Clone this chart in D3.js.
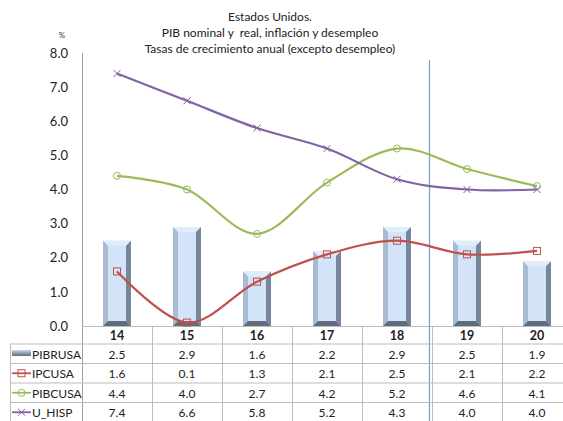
<!DOCTYPE html>
<html><head><meta charset="utf-8">
<script src="https://cdn.jsdelivr.net/npm/d3@7"></script>
<style>html,body{margin:0;padding:0;background:#fff;overflow:hidden}svg{display:block;font-family:Lato,"Open Sans",sans-serif}</style>
</head><body><svg id="c" width="563" height="421"></svg>
<script>
const categories = ["14","15","16","17","18","19","20"];
const PIBRUSA = [2.5,2.9,1.6,2.2,2.9,2.5,1.9];
const IPCUSA  = [1.6,0.1,1.3,2.1,2.5,2.1,2.2];
const PIBCUSA = [4.4,4.0,2.7,4.2,5.2,4.6,4.1];
const U_HISP  = [7.4,6.6,5.8,5.2,4.3,4.0,4.0];
const yTicks = [0,1,2,3,4,5,6,7,8];
const titleLines = ["Estados Unidos.","PIB nominal y  real, inflación y desempleo","Tasas de crecimiento anual (excepto desempleo)"];
const seriesNames = ["PIBRUSA","IPCUSA","PIBCUSA","U_HISP"];

const svg = d3.select("#c");
const x = d3.scaleBand().domain(categories).range([82,572]).padding(0);
const y = d3.scaleLinear().domain([0,8]).range([326,53]);
const grid = "#bcbcbc";

// title
svg.append("g").selectAll("text").data(titleLines).join("text")
  .attr("x",270).attr("y",(d,i)=>21+i*16).attr("text-anchor","middle")
  .attr("font-size",12).attr("fill","#222").attr("xml:space","preserve").style("white-space","pre").text(d=>d);
svg.append("text").attr("x",62).attr("y",38).attr("text-anchor","middle").attr("font-size",8).attr("fill","#333").text("%");

// y axis
const yAxis = d3.axisLeft(y).tickValues(yTicks).tickFormat(d3.format(".1f")).tickSize(0).tickPadding(14);
const ga = svg.append("g").attr("transform","translate(82,0)").call(yAxis);
ga.select(".domain").remove();
ga.selectAll("text").attr("font-size",13).attr("fill","#222").attr("font-family","Lato,'Open Sans',sans-serif");
svg.append("line").attr("x1",82.5).attr("x2",82.5).attr("y1",53).attr("y2",421).attr("stroke","#a0a0a0");

// bars (bevelled)
const b = 5;
const bw = 28;
const bars = svg.append("g");
PIBRUSA.forEach((v,i)=>{
  const cx = x(categories[i]) + x.bandwidth()/2;
  const x0 = cx - bw/2, x1 = cx + bw/2, y0 = y(v), y1 = y(0);
  const g = bars.append("g");
  g.append("rect").attr("x",x0).attr("y",y0).attr("width",bw).attr("height",y1-y0).attr("fill","#d3e4f9");
  const poly = (pts,fill)=>g.append("polygon").attr("points",pts.map(p=>p.join(",")).join(" ")).attr("fill",fill);
  poly([[x0,y0],[x1,y0],[x1-b,y0+b],[x0+b,y0+b]],"#e2edfb");
  poly([[x0,y0],[x0+b,y0+b],[x0+b,y1-b],[x0,y1]],"#a8bbd3");
  poly([[x1,y0],[x1,y1],[x1-b,y1-b],[x1-b,y0+b]],"#77869a");
  poly([[x0,y1],[x0+b,y1-b],[x1-b,y1-b],[x1,y1]],"#5f6c7c");
});

// category axis line
svg.append("line").attr("x1",82).attr("x2",563).attr("y1",326.5).attr("y2",326.5).attr("stroke",grid);

// vertical marker line
svg.append("line").attr("x1",429.5).attr("x2",429.5).attr("y1",60).attr("y2",421).attr("stroke","#7a9cd0").attr("stroke-width",1.2);

// lines
const line = d3.line().x((d,i)=>x(categories[i])+x.bandwidth()/2).y(d=>y(d)).curve(d3.curveCardinal.tension(0));
const series = [
  {name:"IPCUSA",data:IPCUSA,color:"#c0504d",marker:"square"},
  {name:"PIBCUSA",data:PIBCUSA,color:"#9bbb59",marker:"circle"},
  {name:"U_HISP",data:U_HISP,color:"#8064a2",marker:"x"}
];
function drawMarker(g,type,cx,cy,color,s){
  if(type==="square") g.append("rect").attr("x",cx-s).attr("y",cy-s).attr("width",2*s).attr("height",2*s).attr("fill","none").attr("stroke",color).attr("stroke-width",1);
  else if(type==="circle") g.append("circle").attr("cx",cx).attr("cy",cy).attr("r",s).attr("fill","none").attr("stroke",color).attr("stroke-width",1);
  else { g.append("path").attr("d",`M${cx-s},${cy-s}L${cx+s},${cy+s}M${cx-s},${cy+s}L${cx+s},${cy-s}`).attr("stroke",color).attr("stroke-width",1); }
}
series.forEach(s=>{
  svg.append("path").attr("d",line(s.data)).attr("fill","none").attr("stroke",s.color).attr("stroke-width",2.2);
  const g = svg.append("g");
  s.data.forEach((v,i)=>drawMarker(g,s.marker,x(categories[i])+x.bandwidth()/2,y(v),s.color,3.5));
});

// table
const rowTop = [344,363.5,383,402.5];
const rowH = 19.5;
const tg = svg.append("g");
categories.forEach(c=>{
  tg.append("text").attr("x",x(c)+x.bandwidth()/2).attr("y",340).attr("text-anchor","middle").attr("font-size",12.5).attr("font-weight","bold").attr("fill","#222").text(c);
});
rowTop.forEach(t=>tg.append("line").attr("x1",10).attr("x2",563).attr("y1",t).attr("y2",t).attr("stroke",grid));
tg.append("line").attr("x1",10.5).attr("x2",10.5).attr("y1",344).attr("y2",421).attr("stroke",grid);
categories.forEach((c,i)=>{ if(i>0){ const xv=Math.round(x(c))+0.5; tg.append("line").attr("x1",xv).attr("x2",xv).attr("y1",326).attr("y2",421).attr("stroke",grid);} });
const tableData = [PIBRUSA,IPCUSA,PIBCUSA,U_HISP];
tableData.forEach((arr,r)=>{
  tg.append("text").attr("x",32).attr("y",rowTop[r]+14.5).attr("font-size",12).attr("fill","#222").text(seriesNames[r]);
  arr.forEach((v,i)=>tg.append("text").attr("x",x(categories[i])+x.bandwidth()/2).attr("y",rowTop[r]+14.5).attr("text-anchor","middle").attr("font-size",12).attr("fill","#222").text(d3.format(".1f")(v)));
});
const defs = svg.append("defs");
const lg = defs.append("linearGradient").attr("id","kg").attr("x1",0).attr("y1",0).attr("x2",0).attr("y2",1);
lg.append("stop").attr("offset","0").attr("stop-color","#c7d7ea");
lg.append("stop").attr("offset","1").attr("stop-color","#5f6c7c");
tg.append("rect").attr("x",12).attr("y",rowTop[0]+6).attr("width",19).attr("height",6).attr("fill","url(#kg)");
series.forEach((s,k)=>{
  const cy = rowTop[k+1]+rowH/2;
  tg.append("line").attr("x1",12).attr("x2",31).attr("y1",cy).attr("y2",cy).attr("stroke",s.color).attr("stroke-width",1.8);
  drawMarker(tg,s.marker,21.5,cy,s.color,3.5);
});
</script></body></html>
